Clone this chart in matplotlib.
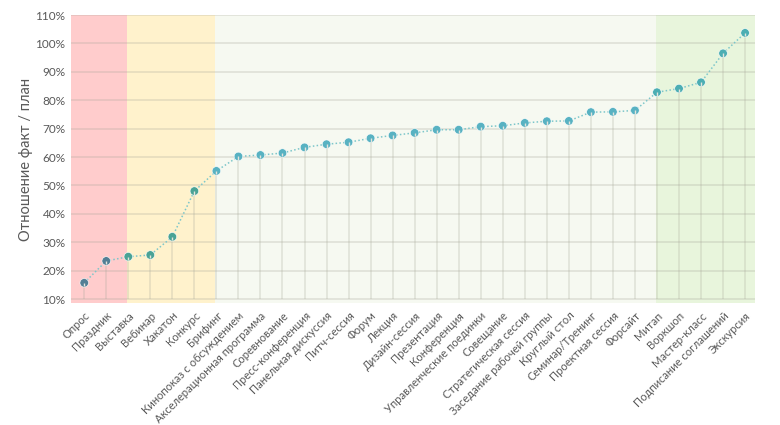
import matplotlib
matplotlib.use("Agg")
import matplotlib.pyplot as plt
from matplotlib.ticker import FuncFormatter, MultipleLocator

categories = ["Опрос", "Праздник", "Выставка", "Вебинар", "Хакатон", "Конкурс", "Брифинг",
              "Кинопоказ с обсуждением", "Акселерационная программа", "Соревнование",
              "Пресс-конференция", "Панельная дискуссия", "Питч-сессия", "Форум", "Лекция",
              "Дизайн-сессия", "Презентация", "Конференция", "Управленческие поединки",
              "Совещание", "Стратегическая сессия", "Заседание рабочей группы", "Круглый стол",
              "Семинар/Тренинг", "Проектная сессия", "Форсайт", "Митап", "Воркшоп",
              "Мастер-класс", "Подписание соглашений", "Экскурсия"]
ratio = [15.7, 23.4, 24.9, 25.5, 31.9, 48.0, 55.1, 60.2, 60.7, 61.4, 63.4, 64.5, 65.2,
         66.6, 67.6, 68.5, 69.6, 69.6, 70.7, 71.0, 72.0, 72.6, 72.7, 75.8, 75.9, 76.4,
         82.8, 84.1, 86.3, 96.5, 103.7]
# zones (index boundaries) and their colours
zone_edges = [-0.6, 1.95, 5.95, 25.95, 30.45]
zone_colors = ["#ffcccc", "#fff2cc", "#f6f9f1", "#e8f5dc"]
point_colors = ["#537f95", "#4aa396", "#58b2c2", "#4caeb3"]

plt.rcParams['font.family'] = ['Lato', 'DejaVu Sans']

fig = plt.figure(figsize=(7.8, 4.25), dpi=100)
ax = fig.add_axes([71/780, 1-303/425, (755-71)/780, 288/425])

ymin = 8.6
for i in range(len(zone_colors)):
    ax.axvspan(zone_edges[i], zone_edges[i+1], color=zone_colors[i], zorder=0, lw=0)

ax.set_xlim(zone_edges[0], zone_edges[-1])
ax.set_ylim(ymin, 110)
ax.yaxis.set_major_locator(MultipleLocator(10))
ax.yaxis.set_major_formatter(FuncFormatter(lambda v, p: f"{v:.0f}%"))
ax.grid(axis='y', color='#a8a89a', alpha=0.3, lw=1.2, zorder=1)
ax.set_axisbelow(True)
for s in ax.spines.values():
    s.set_visible(False)

x = list(range(len(categories)))
ax.plot(x, ratio, ls=(0, (1, 1.5)), color='#7cc6ca', lw=1.1, zorder=3)

def zone_of(i):
    for k in range(len(zone_colors)):
        if zone_edges[k] <= i < zone_edges[k+1]:
            return k
    return len(zone_colors) - 1

cols = [point_colors[zone_of(i)] for i in x]
ax.scatter(x, ratio, s=38, c=cols, edgecolors='white', linewidths=0.4, zorder=4)
ax.vlines(x, 10, ratio, color='#a8a89a', alpha=0.28, lw=1.2, zorder=2)
ax.vlines(x, [r - 1.2 for r in ratio], ratio, color='#e4e4dc', lw=1.0, zorder=5)

ax.set_xticks(x)
ax.set_xticklabels(categories, rotation=45, ha='right', rotation_mode='anchor',
                   fontsize=8, color='#595959')
ax.tick_params(axis='x', length=0, pad=5)
ax.tick_params(axis='y', length=0, pad=4, labelsize=8.5, labelcolor='#595959')
ax.set_ylabel("Отношение факт / план", fontsize=10.5, color='#595959', labelpad=2)

fig.savefig("out.png", dpi=100)
